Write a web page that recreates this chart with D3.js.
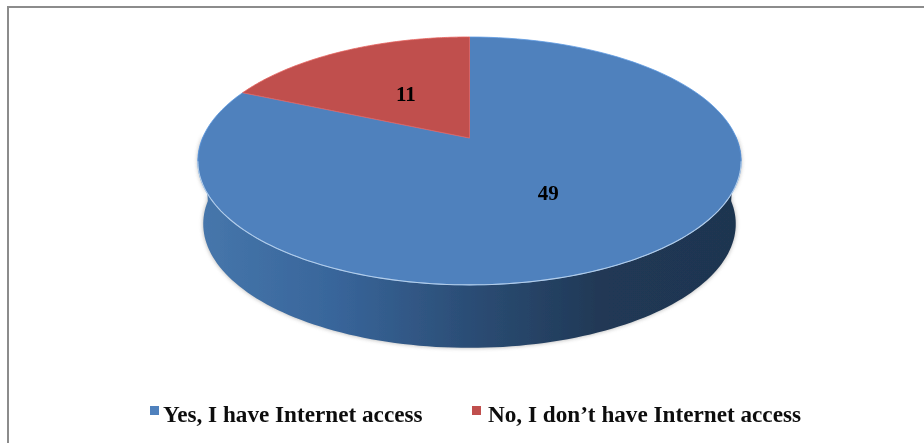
<!DOCTYPE html>
<html>
<head>
<meta charset="utf-8">
<script src="https://d3js.org/d3.v7.min.js"></script>
<style>
    html, body { margin: 0; padding: 0; background: #fff; }
    svg { display: block; }
</style>
</head>
<body>
<div id="chart"></div>
<script>
const categories = ["Yes, I have Internet access", "No, I don\u2019t have Internet access"];
const values = [49, 11];
const colors = ["#4f81bd", "#c0504d"];

const width = 924;
const height = 443;

// pie geometry, the tilted disc is a circle put through a perspective
const cx = 469.5, cy = 138;
const rx = 267, ry = 119.7, persp = -0.185;
const depth = 63;

// u, v on the unit circle -> screen
const project = (angle, r = 1, scaleX = 1, dy = 0) => {
    const u = Math.sin(angle) * r;
    const v = -Math.cos(angle) * r;
    const w = 1 + persp * v;
    return [cx + rx * scaleX * u / w, cy + dy + ry * v / w];
};

const pie = d3.pie().sort(null).startAngle(0).endAngle(2 * Math.PI);
const slices = pie(values);

const line = d3.line();
const arcPoints = (a0, a1, scaleX = 1, dy = 0) =>
    d3.range(0, 121).map(i => project(a0 + (a1 - a0) * i / 120, 1, scaleX, dy));

const svg = d3.select("#chart").append("svg")
    .attr("width", width)
    .attr("height", height);

const defs = svg.append("defs");

const sideGrad = defs.append("linearGradient")
    .attr("id", "side")
    .attr("gradientUnits", "userSpaceOnUse")
    .attr("x1", cx - rx).attr("x2", cx + rx)
    .attr("y1", 0).attr("y2", 0);
[[0, "#4676ab"], [0.25, "#38659a"], [0.5, "#2b4d75"], [0.75, "#203855"], [1, "#1f3550"]]
    .forEach(s => sideGrad.append("stop").attr("offset", s[0]).attr("stop-color", s[1]));

defs.append("filter").attr("id", "soft")
    .attr("x", "-5%").attr("y", "-5%").attr("width", "110%").attr("height", "110%")
    .append("feGaussianBlur").attr("stdDeviation", 2.2);
defs.append("filter").attr("id", "scan")
    .attr("x", "-2%").attr("y", "-2%").attr("width", "104%").attr("height", "104%")
    .append("feGaussianBlur").attr("stdDeviation", 0.5);

// frame, only top and left edges show in the picture
svg.append("path")
    .attr("d", line([[8, height], [8, 7], [width, 7]]))
    .attr("fill", "none")
    .attr("stroke", "#8c8c8c")
    .attr("stroke-width", 2);

// side wall = front half of the disc, extruded down
const sideTop = arcPoints(Math.PI * 0.5 - 0.02, Math.PI * 1.5 + 0.02);
const sideBottom = arcPoints(Math.PI * 1.5, Math.PI * 0.5, 0.98, depth);
const sidePath = line(sideTop.concat(sideBottom)) + "Z";

svg.append("path")
    .attr("d", sidePath)
    .attr("fill", "#777")
    .attr("opacity", 0.6)
    .attr("filter", "url(#soft)");

const pieG = svg.append("g").attr("filter", "url(#scan)");
pieG.append("path")
    .attr("d", sidePath)
    .attr("fill", "url(#side)");

// top face
pieG.selectAll("path.slice")
    .data(slices)
    .join("path")
    .attr("class", "slice")
    .attr("d", d => line([[cx, cy]].concat(arcPoints(d.startAngle, d.endAngle))) + "Z")
    .attr("fill", (d, i) => colors[i])
    .attr("stroke", (d, i) => d3.color(colors[i]).brighter(0.5))
    .attr("stroke-width", 0.8)
    .attr("stroke-linejoin", "round");

// light rim along the front of the disc
pieG.append("path")
    .attr("d", line(arcPoints(Math.PI * 0.56, Math.PI * 1.44)))
    .attr("fill", "none")
    .attr("stroke", "#b4cde8")
    .attr("stroke-width", 1.1);

const textG = svg.append("g").attr("filter", "url(#scan)");

// data labels, placed at mid angle
const labelRadius = [0.5, 0.47];
textG.selectAll("text.value")
    .data(slices)
    .join("text")
    .attr("class", "value")
    .attr("x", (d, i) => project((d.startAngle + d.endAngle) / 2, labelRadius[i])[0])
    .attr("y", (d, i) => project((d.startAngle + d.endAngle) / 2, labelRadius[i])[1])
    .attr("text-anchor", "middle")
    .attr("dy", "0.35em")
    .attr("font-family", "Liberation Serif")
    .attr("font-weight", "bold")
    .attr("font-size", 21)
    .attr("fill", "#000")
    .text(d => d.data);

// legend
const legendY = 414;
const legendX = [150, 472];
const legend = textG.selectAll("g.legend")
    .data(categories)
    .join("g")
    .attr("class", "legend")
    .attr("transform", (d, i) => `translate(${legendX[i]},${legendY})`);
legend.append("rect")
    .attr("y", -8).attr("width", 9).attr("height", 9)
    .attr("fill", (d, i) => colors[i]);
legend.append("text")
    .attr("x", (d, i) => i ? 16 : 13)
    .attr("dy", "0.35em")
    .attr("font-family", "Liberation Serif")
    .attr("font-weight", "bold")
    .attr("font-size", 23.2)
    .attr("fill", "#111")
    .text(d => d);
</script>
</body>
</html>
